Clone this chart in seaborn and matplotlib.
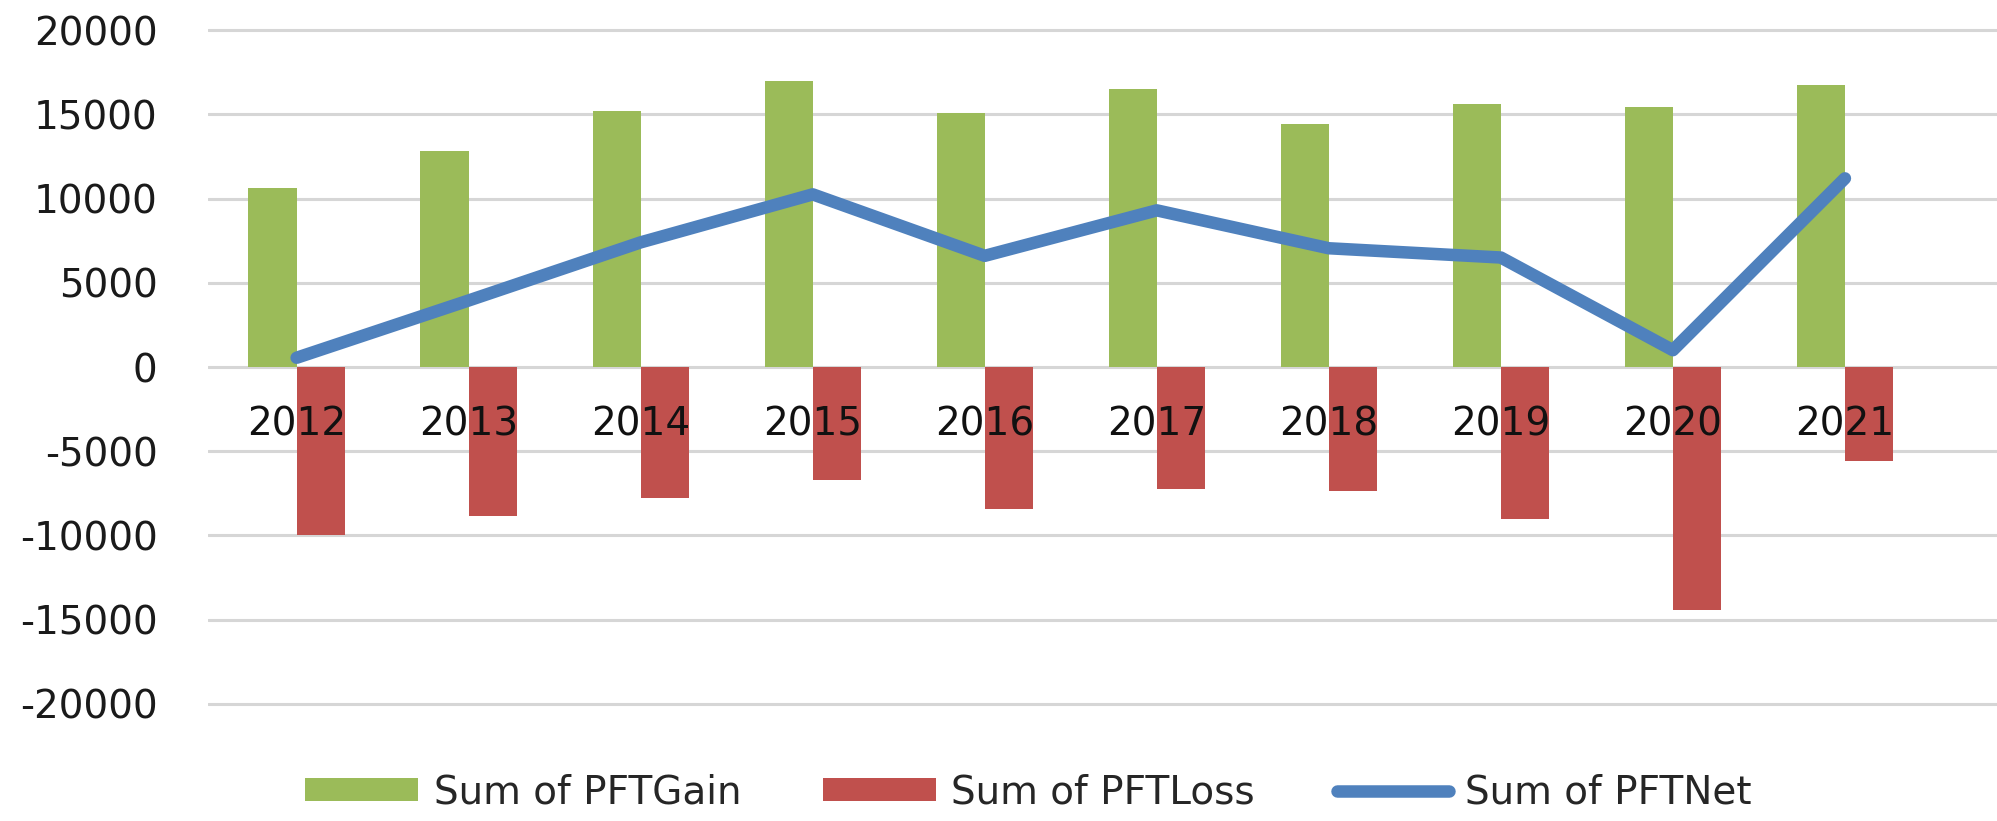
import numpy as np
import pandas as pd

import matplotlib
matplotlib.use("Agg")
import matplotlib.pyplot as plt
import seaborn as sns
from matplotlib.patches import Patch
from matplotlib.lines import Line2D

# =========================================
# DATA
# =========================================

years = [2012, 2013, 2014, 2015, 2016, 2017, 2018, 2019, 2020, 2021]

pft_gain = [10600, 12800, 15200, 16950, 15050, 16500, 14400, 15600, 15450, 16750]

pft_loss = [-10000, -8850, -7800, -6700, -8450, -7250, -7350, -9050, -14450, -5550]

pft_net = [550, 3950, 7400, 10250, 6600, 9300, 7050, 6500, 1000, 11200]

series_names = ["Sum of PFTGain", "Sum of PFTLoss", "Sum of PFTNet"]

y_ticks = [-20000, -15000, -10000, -5000, 0, 5000, 10000, 15000, 20000]

green = "#9BBB59"
red = "#C0504D"
blue = "#4F81BD"

df = pd.DataFrame({
    "Year": years * 2,
    "Series": [series_names[0]] * len(years) + [series_names[1]] * len(years),
    "Value": pft_gain + pft_loss,
})

# =========================================
# FIGURE
# =========================================

sns.set_style("white")
plt.rcParams["font.family"] = ["DejaVu Sans"]

fig = plt.figure(figsize=(19.97, 8.21), dpi=100)
ax = fig.add_axes([0.104, 0.1364, 0.896, 0.8331])

sns.barplot(
    data=df,
    x="Year",
    y="Value",
    hue="Series",
    palette=[green, red],
    width=0.56,
    gap=0,
    saturation=1,
    legend=False,
    ax=ax,
    zorder=2,
)

for patch in ax.patches:
    patch.set_edgecolor("none")

sns.lineplot(
    x=np.arange(len(years)),
    y=pft_net,
    color=blue,
    linewidth=9,
    solid_capstyle="round",
    solid_joinstyle="round",
    ax=ax,
    zorder=3,
)

# =========================================
# AXES STYLING
# =========================================

ax.set_ylim(-20300, 20300)
ax.set_xlim(-0.517, 9.884)
ax.set_yticks(y_ticks)
ax.set_yticklabels([str(t) for t in y_ticks])
ax.set_xticks(range(len(years)))
ax.set_xticklabels([str(y) for y in years])

ax.yaxis.grid(True, color="#D6D6D6", linewidth=2.2)
ax.set_axisbelow(True)
ax.xaxis.set_zorder(5)

ax.spines["bottom"].set_position(("data", 0))
for side in ["top", "right", "left", "bottom"]:
    ax.spines[side].set_visible(False)

ax.tick_params(axis="y", length=0, pad=36, labelsize=28, labelcolor="#1a1a1a")
ax.tick_params(axis="x", length=0, pad=28, labelsize=28, labelcolor="#111111")

ax.set_xlabel("")
ax.set_ylabel("")

# =========================================
# LEGEND
# =========================================

handles = [
    Patch(facecolor=green, edgecolor="none"),
    Patch(facecolor=red, edgecolor="none"),
    Line2D([0], [0], color=blue, linewidth=9, solid_capstyle="round"),
]

fig.legend(
    handles,
    series_names,
    loc="center",
    bbox_to_anchor=(0.515, 0.035),
    ncol=3,
    frameon=False,
    fontsize=28,
    handlelength=2.9,
    handleheight=0.55,
    handletextpad=0.4,
    columnspacing=2.1,
)

plt.savefig("out.png", dpi=100)
plt.close()
